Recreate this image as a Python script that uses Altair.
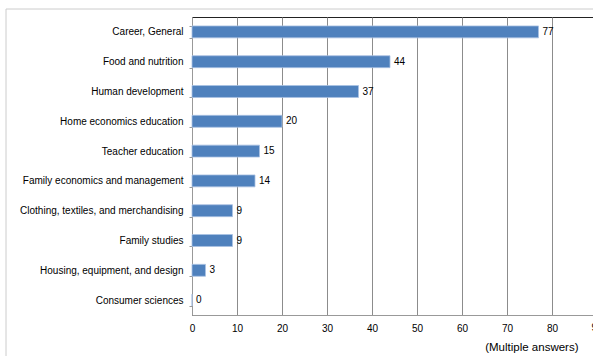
import altair as alt
import pandas as pd

categories = [
    "Career, General",
    "Food and nutrition",
    "Human development",
    "Home economics education",
    "Teacher education",
    "Family economics and management",
    "Clothing, textiles, and merchandising",
    "Family studies",
    "Housing, equipment, and design",
    "Consumer sciences",
]
values = [77, 44, 37, 20, 15, 14, 9, 9, 3, 0]
x_ticks = [0, 10, 20, 30, 40, 50, 60, 70, 80]
x_cut_tick = [90]

df = pd.DataFrame({"category": categories, "value": values})
df_cut = pd.DataFrame({"tick": x_cut_tick})

FONT = "Liberation Sans"
PLOT_W = 401
PLOT_H = 298

x_scale = alt.Scale(domain=[0, 89.11], nice=False, zero=True)
y_enc = alt.Y(
    "category:N",
    sort=categories,
    scale=alt.Scale(paddingInner=0.6, paddingOuter=0.3),
    axis=alt.Axis(
        title=None,
        labelFont=FONT,
        labelFontSize=10,
        labelColor="#000000",
        labelPadding=6,
        tickBand="extent",
        tickSize=3,
        tickColor="#999999",
        domainColor="#999999",
        grid=False,
    ),
)

frame = alt.Chart(df).mark_rect(fill=None, stroke="#cccccc", strokeWidth=1).encode(
    x=alt.value(-186), x2=alt.value(420), y=alt.value(-8), y2=alt.value(360)
).transform_filter("datum.value == 77")

bars = alt.Chart(df).mark_bar(color="#4F81BD", stroke="#A9C1E3", strokeWidth=0.8).encode(
    x=alt.X(
        "value:Q",
        scale=x_scale,
        axis=alt.Axis(
            values=x_ticks,
            title="(Multiple answers)",
            titleFont=FONT,
            titleFontSize=11.5,
            titleFontWeight="normal",
            titleColor="#000000",
            titleAlign="right",
            titleAnchor="start",
            titleBaseline="top",
            titleX=386,
            titleY=26,
            labelFont=FONT,
            labelFontSize=10,
            labelColor="#000000",
            labelPadding=8,
            labelFlush=False,
            labelBound=False,
            labelOverlap=False,
            ticks=False,
            grid=True,
            gridColor="#8c8c8c",
            gridWidth=1,
            domainColor="#999999",
        ),
    ),
    y=y_enc,
)

labels = alt.Chart(df).mark_text(
    align="left", baseline="middle", dx=4, font=FONT, fontSize=10, color="#000000"
).encode(
    x=alt.X("value:Q", scale=x_scale),
    y=alt.Y("category:N", sort=categories),
    text="value:Q",
)

cut_label = alt.Chart(df_cut).mark_text(
    align="center", baseline="top", font=FONT, fontSize=10, color="#000000", clip=False
).encode(
    x=alt.X("tick:Q", scale=x_scale),
    y=alt.value(PLOT_H + 8),
    text="tick:Q",
)

chart = (
    alt.layer(frame, bars, labels, cut_label)
    .properties(
        width=PLOT_W,
        height=PLOT_H,
        autosize=alt.AutoSizeParams(type="none"),
        padding={"left": 192, "top": 17, "right": 0, "bottom": 41},
        background="#ffffff",
    )
    .configure_view(stroke="#222222", strokeWidth=1)
)

chart.save("out.html", embed_options={"renderer": "svg", "actions": False})
